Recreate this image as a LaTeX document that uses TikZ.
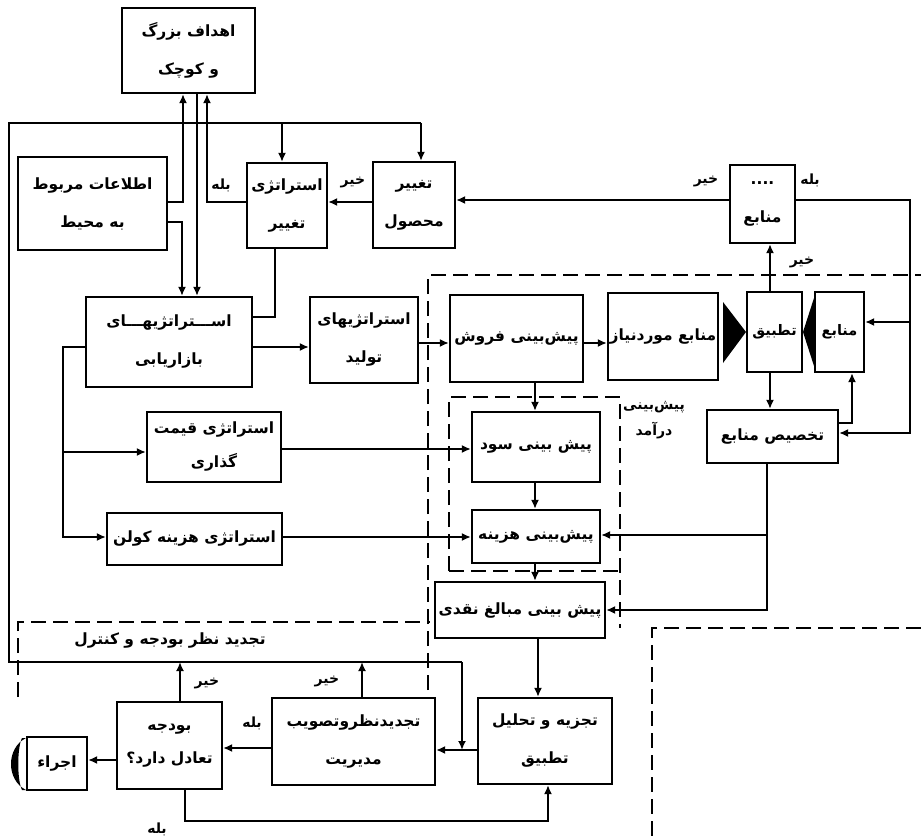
\documentclass[tikz,border=0pt]{standalone}
\usepackage{fontspec}
\newfontfamily\farsifont[Script=Arabic]{DejaVu Sans}
\TeXXeTstate=1
\usetikzlibrary{arrows.meta}
\newcommand\fatext[1]{\beginR#1\endR}
\tikzset{
  box/.style={draw, line width=2.2pt, inner sep=0pt, align=center, fill=white,
    font=\farsifont\bfseries\fontsize{15.5}{38}\selectfont},
  wh/.style 2 args={minimum width=#1pt, minimum height=#2pt},
  conn/.style={line width=1.8pt},
  arr/.style={conn, -{Latex[length=9pt,width=8pt]}},
  dsh/.style={line width=1.5pt, dash pattern=on 15pt off 7pt},
  lbl/.style={font=\farsifont\bfseries\fontsize{14}{26}\selectfont, inner sep=0pt, align=center},
}
\begin{document}
\begin{tikzpicture}[x=1pt,y=-1pt]
\useasboundingbox[fill=white] (0,0) rectangle (921,837);

% dashed regions
\draw[dsh] (428,690) -- (428,275) -- (921,275);
\draw[dsh] (449,571) -- (449,397) -- (620,397) -- (620,628);
\draw[dsh] (449,571) -- (620,571);
\draw[dsh] (18,697) -- (18,622) -- (430,622);
\draw[dsh] (921,628) -- (652,628) -- (652,837);

% nodes
\node[box, wh={133}{85}] (goals) at (188.5,50.5) {\fatext{اهداف بزرگ}\\\fatext{و کوچک}};
\node[box, wh={149}{93}] (env) at (92.5,203.5) {\fatext{اطلاعات مربوط}\\\fatext{به محیط}};
\node[box, wh={80}{85}] (chstrat) at (287,205.5) {\fatext{استراتژی}\\\fatext{تغییر}};
\node[box, wh={82}{86}] (chprod) at (414,205) {\fatext{تغییر}\\\fatext{محصول}};
\node[box, wh={65}{78}] (res1) at (762.5,204) {\fatext{....}\\\fatext{منابع}};
\node[box, wh={166}{90}] (mkt) at (169,342) {\fatext{اســـتراتژیهـــای}\\\fatext{بازاریابی}};
\node[box, wh={108}{86}] (prod) at (364,340) {\fatext{استراتژیهای}\\\fatext{تولید}};
\node[box, wh={133}{87}] (sales) at (516.5,338.5) {\fatext{پیش‌بینی فروش}};
\node[box, wh={110}{87}] (need) at (663,336.5) {\fatext{منابع موردنیاز}};
\node[box, wh={55}{80}, font=\farsifont\bfseries\fontsize{14.5}{20}\selectfont] (match) at (774.5,332) {\fatext{تطبیق}};
\node[box, wh={49}{80}, font=\farsifont\bfseries\fontsize{14.5}{20}\selectfont] (res2) at (839.5,332) {\fatext{منابع}};
\node[box, wh={131}{53}] (alloc) at (772.5,436.5) {\fatext{تخصیص منابع}};
\node[box, wh={134}{70}, font=\farsifont\bfseries\fontsize{15.5}{34}\selectfont] (price) at (214,447) {\fatext{استراتژی قیمت}\\\fatext{گذاری}};
\node[box, wh={128}{70}] (profit) at (536,447) {\fatext{پیش بینی سود}};
\node[box, wh={175}{52}] (cost) at (194.5,539) {\fatext{استراتژی هزینه کولن}};
\node[box, wh={128}{53}] (costf) at (536,536.5) {\fatext{پیش‌بینی هزینه}};
\node[box, wh={170}{56}] (cash) at (520,610) {\fatext{پیش بینی مبالغ نقدی}};
\node[box, wh={134}{86}] (anal) at (545,741) {\fatext{تجزیه و تحلیل}\\\fatext{تطبیق}};
\node[box, wh={163}{87}] (mgmt) at (353.5,741.5) {\fatext{تجدیدنظروتصویب}\\\fatext{مدیریت}};
\node[box, wh={105}{87}, font=\farsifont\bfseries\fontsize{15.5}{33}\selectfont] (budget) at (169.5,745.5) {\fatext{بودجه}\\\fatext{تعادل دارد؟}};
\node[box, wh={60}{53}] (exec) at (57,763.5) {\fatext{اجراء}};

% labels
\node[lbl] (l1) at (221,185) {\fatext{بله}};
\node[lbl] (l2) at (353,183) {\fatext{خیر}};
\node[lbl] (l3) at (706,182) {\fatext{خیر}};
\node[lbl] (l4) at (810,180) {\fatext{بله}};
\node[lbl] (l5) at (802,262) {\fatext{خیر}};
\node[lbl] (l6) at (654,420) {\fatext{پیش‌بینی}\\\fatext{درآمد}};
\node[lbl, font=\farsifont\bfseries\fontsize{15.5}{18}\selectfont] (l7) at (170,640) {\fatext{تجدید نظر بودجه و کنترل}};
\node[lbl] (l8) at (207,683) {\fatext{خیر}};
\node[lbl] (l9) at (327,681) {\fatext{خیر}};
\node[lbl] (l10) at (252,723) {\fatext{بله}};
\node[lbl] (l11) at (157,829) {\fatext{بله}};

% junctions
\coordinate (jTL) at (9,123);
\coordinate (jBL) at (9,662);
\coordinate (jBR) at (462,662);
\coordinate (jTR) at (421,123);
\coordinate (jTM) at (282,123);
\coordinate (jR) at (910,322);
\coordinate (jL) at (63,452);
\coordinate (jA) at (767,535);
\coordinate (jD) at (462,750);

% connectors
\draw[conn] (jBR) -- (jBL) -- (jTL) -- (jTR);
\draw[arr] (jTR) -- (chprod.north -| jTR);
\draw[arr] (jTM) -- (chstrat.north -| jTM);
\draw[arr] (jBR) -- (jD);
\draw[arr] (budget.north -| 180,0) -- (jBL -| 180,0);
\draw[arr] (mgmt.north -| 362,0) -- (jBL -| 362,0);

\draw[arr] (env.east |- 0,202) -| (goals.south -| 183,0);
\draw[arr] (env.east |- 0,222) -| (mkt.north -| 182,0);
\draw[arr] (goals.south -| 197,0) -- (mkt.north -| 197,0);
\draw[arr] (chstrat.west |- 0,202) -| (goals.south -| 207,0);
\draw[arr] (chprod.west |- 0,202) -- (chstrat.east |- 0,202);
\draw[conn] (chstrat.south -| 275,0) |- (mkt.east |- 0,317);

\draw[arr] (mkt.east |- 0,347) -- (prod.west |- 0,347);
\draw[arr] (prod.east |- 0,343) -- (sales.west |- 0,343);
\draw[arr] (mkt.west |- 0,347) -| (63,537) -- (cost.west |- 0,537);
\draw[arr] (jL) -- (price.west |- jL);
\draw[arr] (price.east |- 0,449) -- (profit.west |- 0,449);
\draw[arr] (cost.east |- 0,537) -- (costf.west |- 0,537);

\draw[arr] (sales.east |- 0,343) -- (need.west |- 0,343);
\draw[arr] (sales.south -| 535,0) -- (profit.north -| 535,0);
\draw[arr] (profit.south -| 535,0) -- (costf.north -| 535,0);
\draw[arr] (costf.south -| 535,0) -- (cash.north -| 535,0);
\draw[arr] (cash.south -| 538,0) -- (anal.north -| 538,0);

\draw[arr] (match.north -| 770,0) -- (res1.south -| 770,0);
\draw[arr] (res1.west |- 0,200) -- (chprod.east |- 0,200);
\draw[arr] (res1.east |- 0,200) -| (910,433) -- (alloc.east |- 0,433);
\draw[arr] (jR) -- (res2.east |- jR);
\draw[arr] (match.south -| 770,0) -- (alloc.north -| 770,0);
\draw[arr] (alloc.east |- 0,423) -| (res2.south -| 852,0);
\draw[arr] (alloc.south -| 767,0) |- (cash.east |- 0,610);
\draw[arr] (jA) -- (costf.east |- jA);

\draw[arr] (anal.west |- 0,750) -- (mgmt.east |- 0,750);
\draw[arr] (mgmt.west |- 0,748) -- (budget.east |- 0,748);
\draw[arr] (budget.west |- 0,760) -- (exec.east |- 0,760);
\draw[arr] (budget.south -| 185,0) -- (185,821) -| (anal.south -| 548,0);

% black wedges
\fill (723,302) -- (723,363) -- (746,332) -- cycle;
\fill (814,298) -- (814,366) -- (803,332) -- cycle;
\fill (26,738) .. controls (6,748) and (6,780) .. (26,790) -- (22,790) .. controls (17,780) and (17,748) .. (22,738) -- cycle;
\end{tikzpicture}
\end{document}
